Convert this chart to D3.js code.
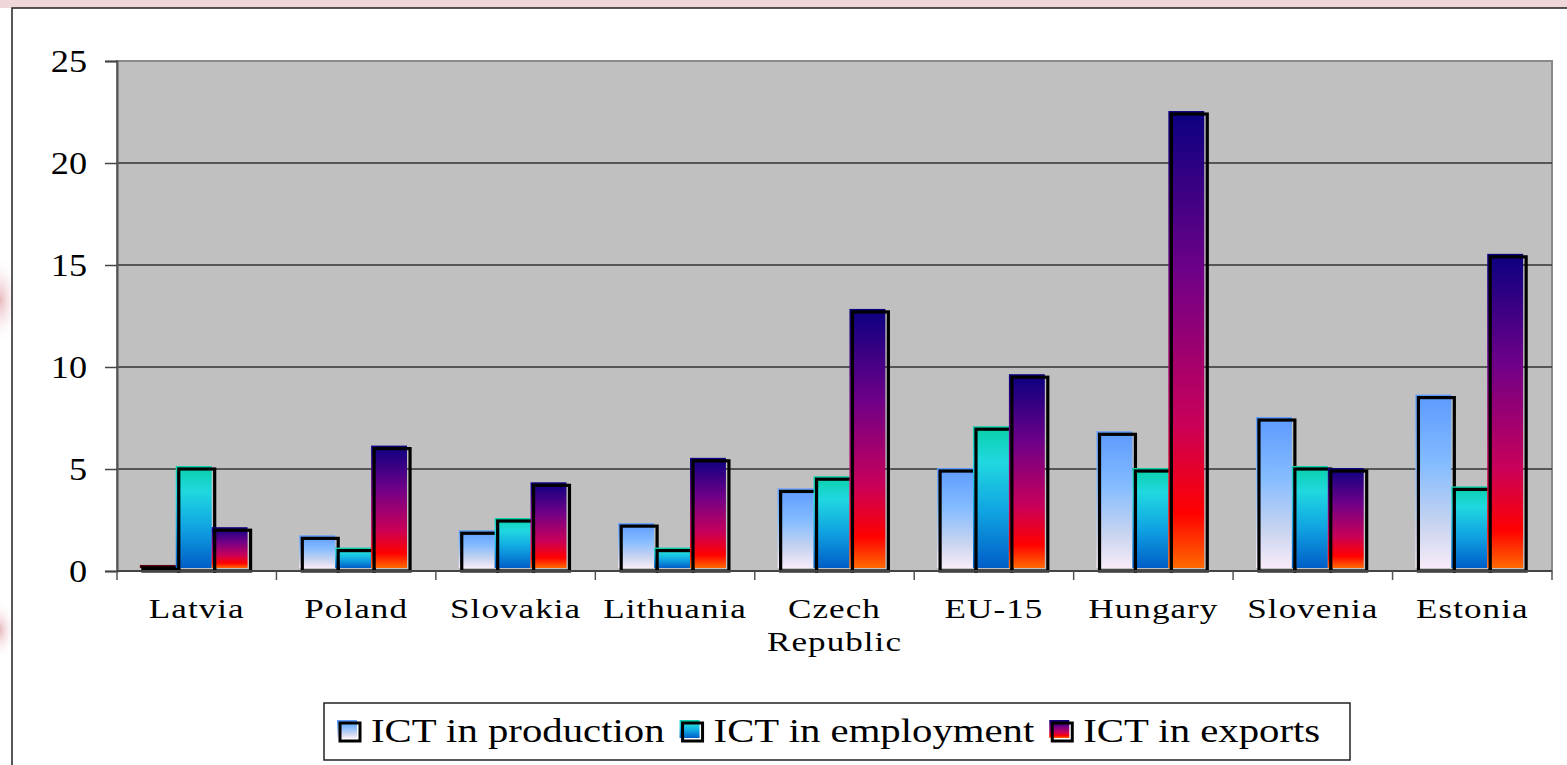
<!DOCTYPE html>
<html>
<head>
<meta charset="utf-8">
<script src="https://cdn.jsdelivr.net/npm/d3@7"></script>
<style>
  body { margin: 0; background: #fff; }
  text { font-family: "Liberation Serif", "Times New Roman", serif; fill: #000; }
</style>
</head>
<body>
<div id="chart"></div>
<script>
const categories = ["Latvia", "Poland", "Slovakia", "Lithuania", "Czech\nRepublic", "EU-15", "Hungary", "Slovenia", "Estonia"];
const seriesNames = ["ICT in production", "ICT in employment", "ICT in exports"];
const production = [0.15, 1.6, 1.85, 2.2, 3.9, 4.9, 6.7, 7.4, 8.5];
const employment = [5.0, 1.0, 2.45, 1.0, 4.5, 6.95, 4.9, 5.0, 4.0];
const exportsV = [2.0, 6.0, 4.2, 5.4, 12.7, 9.5, 22.4, 4.9, 15.4];
const yTicks = [0, 5, 10, 15, 20, 25];

const seriesVals = [production, employment, exportsV];
const gradStops = [
  [[0, "#5c9aff"], [0.4, "#84bcff"], [0.75, "#c8d4f0"], [1, "#f8ecf8"]],
  [[0, "#08d0a8"], [0.25, "#20d8e0"], [0.6, "#10a4e2"], [1, "#005ec8"]],
  [[0, "#0a0080"], [0.35, "#6e0088"], [0.68, "#c8005a"], [0.88, "#ff0000"], [1, "#ff6a00"]],
];

const width = 1567, height = 765;
const plot = { left: 117, right: 1552, top: 61, bottom: 571 };

const svg = d3.select("#chart").append("svg")
  .attr("width", width).attr("height", height);

const defs = svg.append("defs");
gradStops.forEach((stops, i) => {
  const g = defs.append("linearGradient").attr("id", "g" + i)
    .attr("x1", 0).attr("y1", 0).attr("x2", 0).attr("y2", 1);
  stops.forEach(s => g.append("stop").attr("offset", s[0]).attr("stop-color", s[1]));
});
const pink = defs.append("radialGradient").attr("id", "pinkglow");
pink.append("stop").attr("offset", 0).attr("stop-color", "#e8b8bd");
pink.append("stop").attr("offset", 1).attr("stop-color", "#fff").attr("stop-opacity", 0);

// slide backdrop peeking around the chart
svg.append("rect").attr("x", 0).attr("y", 0).attr("width", width).attr("height", 8).attr("fill", "#efd6d9");
svg.append("ellipse").attr("cx", 0).attr("cy", 300).attr("rx", 20).attr("ry", 45).attr("fill", "url(#pinkglow)");
svg.append("ellipse").attr("cx", 0).attr("cy", 630).attr("rx", 16).attr("ry", 30).attr("fill", "url(#pinkglow)");

// chart frame
svg.append("rect").attr("x", 12).attr("y", 8).attr("width", width).attr("height", height)
  .attr("fill", "#fff").attr("stroke", "#222").attr("stroke-width", 1.5);

const x0 = d3.scaleBand().domain(categories).range([plot.left, plot.right]);
const x1 = d3.scaleBand().domain(d3.range(3)).range([0, x0.bandwidth()]).paddingOuter(0.72);
const y = d3.scaleLinear().domain([0, 25]).range([plot.bottom, plot.top]);

// plot area
svg.append("rect")
  .attr("x", plot.left).attr("y", plot.top)
  .attr("width", plot.right - plot.left).attr("height", plot.bottom - plot.top)
  .attr("fill", "#c0c0c0").attr("stroke", "#8a8a8a").attr("stroke-width", 2);

svg.append("g").selectAll("line").data(yTicks.filter(d => d > 0 && d < 25)).join("line")
  .attr("x1", plot.left).attr("x2", plot.right)
  .attr("y1", d => y(d)).attr("y2", d => y(d))
  .attr("stroke", "#333").attr("stroke-width", 1.5);

// y axis (text is stretched sideways like the original)
const ky = 1.17;
const yAxis = svg.append("g").attr("transform", `translate(${plot.left},0)`)
  .call(d3.axisLeft(y).tickValues(yTicks).tickSize(12).tickPadding(18));
yAxis.select(".domain").attr("stroke", "#555").attr("stroke-width", 2);
yAxis.selectAll(".tick line").attr("stroke", "#444").attr("stroke-width", 1.5);
yAxis.selectAll(".tick text")
  .style("font-family", "Liberation Serif").style("font-size", "31px")
  .attr("x", -30 / ky).attr("dy", "0.35em")
  .attr("transform", `scale(${ky},1)`);

// bars
const groups = svg.append("g").selectAll("g").data(categories).join("g")
  .attr("transform", d => `translate(${x0(d)},0)`);
const off = 3;
groups.each(function (c, ci) {
  const g = d3.select(this);
  seriesVals.forEach((vals, si) => {
    const v = vals[ci];
    const bx = x1(si), bw = x1.bandwidth();
    g.append("rect")
      .attr("x", bx - off).attr("y", y(v) - off)
      .attr("width", bw).attr("height", Math.max(1, y(0) - y(v)))
      .attr("fill", v < 0.5 ? "#5a0010" : `url(#g${si})`);
    g.append("rect")
      .attr("x", bx).attr("y", y(v))
      .attr("width", bw).attr("height", y(0) - y(v))
      .attr("fill", "none").attr("stroke", "#000").attr("stroke-width", 3.2);
  });
});

// x axis
const xAxisG = svg.append("g");
xAxisG.append("line").attr("x1", plot.left).attr("x2", plot.right)
  .attr("y1", plot.bottom).attr("y2", plot.bottom)
  .attr("stroke", "#444").attr("stroke-width", 2);
const bounds = categories.map(c => x0(c)).concat([plot.right]);
xAxisG.selectAll("line.tk").data(bounds).join("line").attr("class", "tk")
  .attr("x1", d => d).attr("x2", d => d)
  .attr("y1", plot.bottom).attr("y2", plot.bottom + 9)
  .attr("stroke", "#555").attr("stroke-width", 1.5);
const kx = 1.3;
const labelRows = categories.flatMap(c => c.split("\n").map((line, i) => ({ c, line, i })));
xAxisG.selectAll("text").data(labelRows).join("text")
  .attr("transform", d => `translate(${x0(d.c) + x0.bandwidth() / 2},${618 + d.i * 33}) scale(${kx},1)`)
  .attr("text-anchor", "middle")
  .style("font-size", "27px")
  .attr("letter-spacing", 0.8)
  .text(d => d.line);

// legend
const kl = 1.235;
const legend = svg.append("g");
legend.append("rect").attr("x", 324).attr("y", 703).attr("width", 1026).attr("height", 57)
  .attr("fill", "#fff").attr("stroke", "#222").attr("stroke-width", 1.5);
let lx = 340;
seriesNames.forEach((name, i) => {
  legend.append("rect").attr("x", lx - 3).attr("y", 720).attr("width", 20).attr("height", 18)
    .attr("fill", `url(#g${i})`);
  legend.append("rect").attr("x", lx).attr("y", 723).attr("width", 20).attr("height", 18)
    .attr("fill", "none").attr("stroke", "#000").attr("stroke-width", 3);
  const t = legend.append("text")
    .attr("transform", `translate(${lx + 31},742) scale(${kl},1)`)
    .style("font-size", "33px").text(name);
  lx += 31 + t.node().getComputedTextLength() * kl + 18;
});
</script>
</body>
</html>
